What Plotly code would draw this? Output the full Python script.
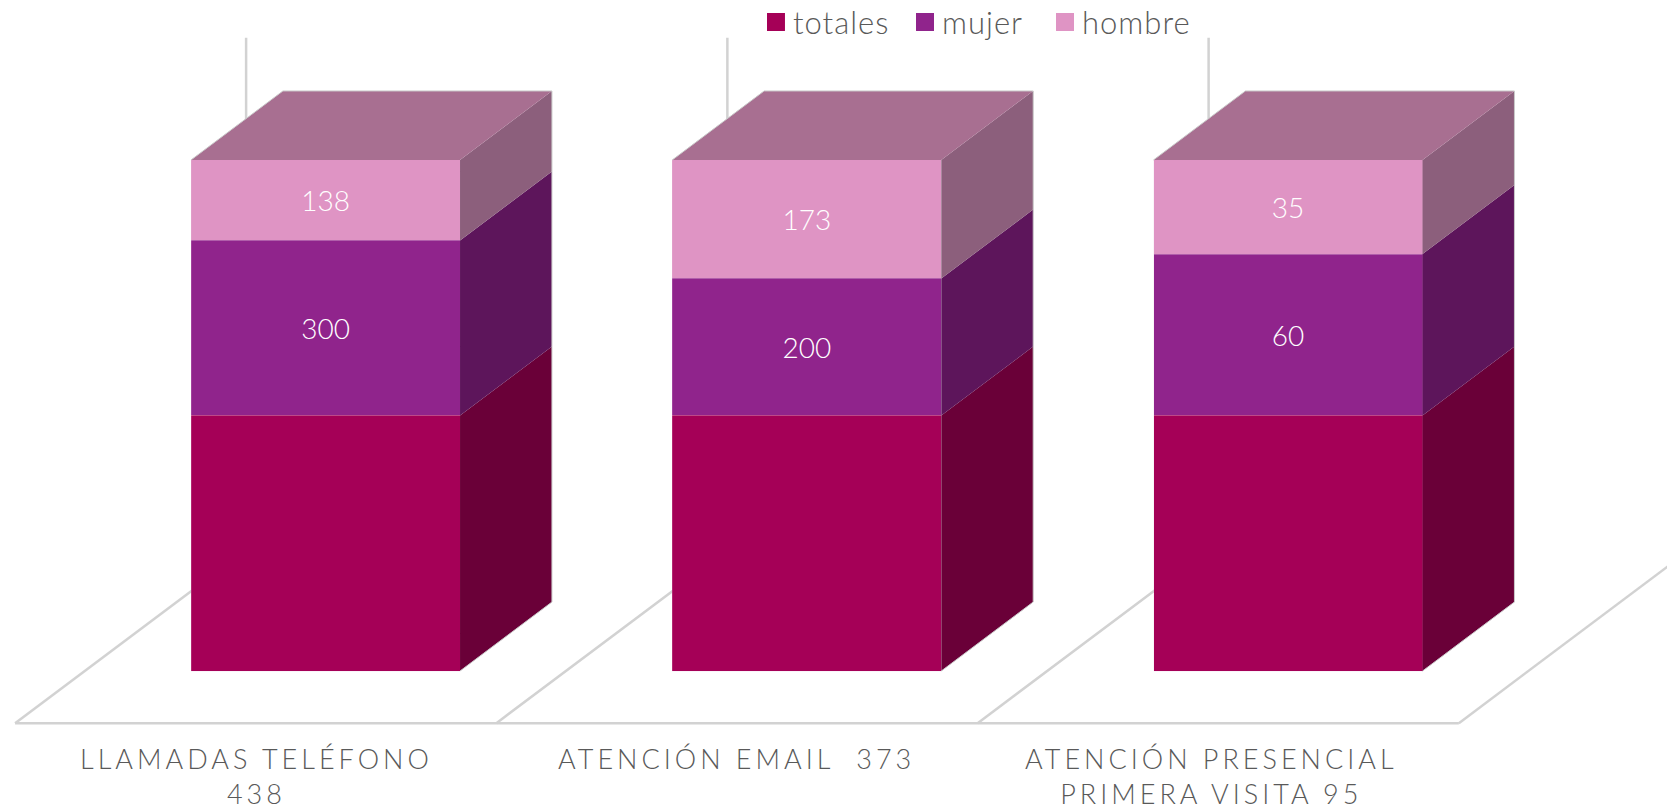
# 3D-look 100% stacked bars: plotly has no 3D bar for this, so fronts are real
# bars (barnorm=percent) and the sides / tops are filled scatters worked out from the same values

import numpy as np
import plotly.graph_objects as go

# ----------------------------
# Data
# ----------------------------
categories = ["LLAMADAS TELÉFONO<br>438", "ATENCIÓN EMAIL \u00a0373", "ATENCIÓN PRESENCIAL<br>PRIMERA VISITA 95"]
totales = [438, 373, 95]
mujer = [300, 200, 60]
hombre = [138, 173, 35]

series_names = ["totales", "mujer", "hombre"]
series_values = [totales, mujer, hombre]
front_colors = ["#A50057", "#90248C", "#DF94C4"]
side_colors = ["#6A0038", "#5D155B", "#8C5F7C"]
top_color = "#A86F91"
edge_color = "#C9C9C9"
text_color = "#595959"
font_family = "Lato"

# ----------------------------
# Geometry (axis units: x = category index, y = percent of the stack)
# ----------------------------
bar_width = 0.559
depth_x = 0.191
depth_y = 13.5
floor_y = -10.2
floor_x = [-0.645, 0.355, 1.355, 2.355]
wall_x = 0.48
wall_y = 33.9
grid_top = 123.9
label_x = [-0.144, 0.853, 1.84]
label_y = -13.5
legend_x = [0.936, 1.2457, 1.5366]
legend_y = 127.0

x_idx = np.arange(len(categories))
shares = np.array(series_values, dtype=float)
shares = shares / shares.sum(axis=0) * 100
tops = shares.cumsum(axis=0)
bottoms = tops - shares

fig = go.Figure()

# ----------------------------
# Front faces + side faces
# ----------------------------
for s, name in enumerate(series_names):
    labels = ["" if name == "totales" else str(v) for v in series_values[s]]
    fig.add_trace(go.Bar(
        x=x_idx, y=series_values[s], name=name, width=bar_width,
        marker=dict(color=front_colors[s], line=dict(color="rgba(235,200,225,0.4)", width=0.5)),
        text=labels, textposition="inside", insidetextanchor="middle", textangle=0,
        textfont=dict(color="white", size=28, family=font_family, weight=300),
        hoverinfo="skip", showlegend=False,
    ))

    side_x, side_y = [], []
    for i in x_idx:
        r = i + bar_width / 2
        side_x += [r, r + depth_x, r + depth_x, r, r, None]
        side_y += [bottoms[s][i], bottoms[s][i] + depth_y, tops[s][i] + depth_y, tops[s][i], bottoms[s][i], None]
    fig.add_trace(go.Scatter(
        x=side_x, y=side_y, mode="lines", fill="toself", fillcolor=side_colors[s],
        line=dict(width=0), hoverinfo="skip", showlegend=False,
    ))

# Top faces and the pale outline round the back of each block
top_x, top_y, edge_x, edge_y = [], [], [], []
for i in x_idx:
    l, r = i - bar_width / 2, i + bar_width / 2
    top_x += [l, l + depth_x, r + depth_x, r, l, None]
    top_y += [100, 100 + depth_y, 100 + depth_y, 100, 100, None]
    edge_x += [l, l + depth_x, r + depth_x, r + depth_x, r, None]
    edge_y += [100, 100 + depth_y, 100 + depth_y, depth_y, 0, None]
fig.add_trace(go.Scatter(
    x=top_x, y=top_y, mode="lines", fill="toself", fillcolor=top_color,
    line=dict(width=0), hoverinfo="skip", showlegend=False,
))
fig.add_trace(go.Scatter(
    x=edge_x, y=edge_y, mode="lines", line=dict(color=edge_color, width=1),
    hoverinfo="skip", showlegend=False,
))

# ----------------------------
# Legend (square swatches, names as annotations so the gap can be set)
# ----------------------------
annotations = []
for s, name in enumerate(series_names):
    fig.add_trace(go.Scatter(
        x=[legend_x[s]], y=[legend_y], mode="markers",
        marker=dict(symbol="square", size=18, color=front_colors[s]),
        hoverinfo="skip", showlegend=False,
    ))
    annotations.append(dict(
        x=legend_x[s], y=legend_y, xref="x", yref="y", xanchor="left", yanchor="middle", xshift=15,
        showarrow=False, text=f'<span style="letter-spacing:1px">{name}</span>',
        font=dict(color=text_color, size=31, family=font_family, weight=300),
    ))

# ----------------------------
# Floor and back wall lines, under the bars
# ----------------------------
grid_line = dict(color="#D2D2D2", width=2.5)
shapes = [dict(type="line", x0=floor_x[0], x1=floor_x[-1], y0=floor_y, y1=floor_y,
               line=grid_line, layer="below")]
for fx in floor_x:
    shapes.append(dict(type="line", x0=fx, x1=fx + wall_x, y0=floor_y, y1=floor_y + wall_y,
                       line=grid_line, layer="below"))
    shapes.append(dict(type="line", x0=fx + wall_x, x1=fx + wall_x, y0=floor_y + wall_y, y1=grid_top,
                       line=grid_line, layer="below"))

# ----------------------------
# Category labels
# ----------------------------
for i, cat in enumerate(categories):
    annotations.append(dict(
        x=label_x[i], y=label_y, xref="x", yref="y", yanchor="top", xanchor="center", showarrow=False,
        text="<br>".join(f'<span style="letter-spacing:4px">{part}</span>' for part in cat.split("<br>")),
        font=dict(color=text_color, size=27, family=font_family, weight=300),
    ))

fig.update_layout(
    width=1667, height=809,
    barmode="stack", barnorm="percent",
    paper_bgcolor="white", plot_bgcolor="white",
    margin=dict(l=0, r=0, t=0, b=0),
    xaxis=dict(visible=False, range=[-0.6764, 2.7875]),
    yaxis=dict(visible=False, range=[-27.0, 131.3]),
    shapes=shapes, annotations=annotations,
    showlegend=False,
)

# default page has an 8px body margin, which would shift everything
fig.write_html("out.html", config=dict(displayModeBar=False), post_script="document.body.style.margin='0';")
